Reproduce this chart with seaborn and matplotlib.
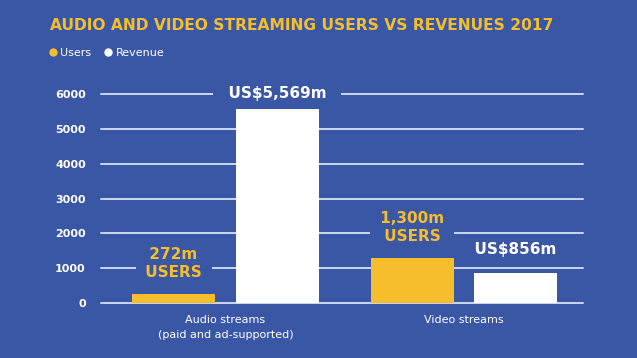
import pandas as pd
import matplotlib
matplotlib.use("Agg")
import matplotlib.pyplot as plt
from matplotlib.lines import Line2D
import seaborn as sns

# =========================
# dados
# =========================
categorias = ["Audio streams\n(paid and ad-supported)", "Video streams"]
usuarios = [272, 1300]
receita = [5569, 856]
rotulos_usuarios = ["272m\nUSERS", "1,300m\nUSERS"]
rotulos_receita = ["US$5,569m", "US$856m"]
series = ["Users", "Revenue"]
yticks = [0, 1000, 2000, 3000, 4000, 5000, 6000]

# estilo
FUNDO = "#3a57a6"
AMARELO = "#f6be2c"
BRANCO = "#ffffff"
GRADE = "#cbd7f2"
desloc_usuarios = [10, 10]   # pontos acima da barra
desloc_receita = [6, 12]

dados = pd.DataFrame({
    "Categoria": categorias * 2,
    "Serie": [series[0]] * 2 + [series[1]] * 2,
    "Valor": usuarios + receita,
})

sns.set_style("white")
plt.rcParams["font.family"] = ["DejaVu Sans"]

fig = plt.figure(figsize=(6.37, 3.58), dpi=100, facecolor=FUNDO)
ax = fig.add_axes([0.1586, 0.1536, 0.7564, 0.5838], facecolor=FUNDO)

sns.barplot(
    data=dados, x="Categoria", y="Valor", hue="Serie",
    palette=[AMARELO, BRANCO], saturation=1, width=0.87, gap=0.2,
    legend=False, ax=ax, zorder=3, linewidth=0,
)

# grade
for y in yticks:
    ax.axhline(y, color=GRADE, lw=1.4, zorder=1, clip_on=False)

ax.set_xlim(-0.522, 1.499)
ax.set_ylim(0, 6000)
ax.set_yticks(yticks)
ax.set_yticklabels([str(t) for t in yticks], color=BRANCO, fontsize=8, fontweight="bold")
ax.set_xticks(range(len(categorias)))
ax.set_xticklabels(categorias, linespacing=1.6)
ax.tick_params(axis="y", length=0, pad=11)
ax.tick_params(axis="x", length=0, pad=8.5, labelsize=8, labelcolor=BRANCO)
ax.set_xlabel("")
ax.set_ylabel("")
for s in ax.spines.values():
    s.set_visible(False)


def com_margem(txt, n):
    return "\n".join(" " * n + l + " " * n for l in txt.split("\n"))


# rótulos das barras
barras_u = ax.containers[0]
barras_r = ax.containers[1]
for barra, txt, d in zip(barras_u, rotulos_usuarios, desloc_usuarios):
    ax.annotate(com_margem(txt, 1), (barra.get_x() + barra.get_width() / 2, barra.get_height()),
                xytext=(0, d), textcoords="offset points", ha="center", va="bottom",
                color=AMARELO, fontsize=11, fontweight="bold", linespacing=1.2,
                bbox=dict(boxstyle="square,pad=0.3", fc=FUNDO, ec="none"), zorder=4,
                annotation_clip=False)
for barra, txt, d in zip(barras_r, rotulos_receita, desloc_receita):
    ax.annotate(com_margem(txt, 2), (barra.get_x() + barra.get_width() / 2, barra.get_height()),
                xytext=(0, d), textcoords="offset points", ha="center", va="bottom",
                color=BRANCO, fontsize=11, fontweight="bold",
                bbox=dict(boxstyle="square,pad=0.3", fc=FUNDO, ec="none"), zorder=4,
                annotation_clip=False)

# título e legenda
fig.text(50 / 637, 1 - 25 / 358, "AUDIO AND VIDEO STREAMING USERS VS REVENUES 2017",
         color=AMARELO, fontsize=11.2, fontweight="bold", va="center", ha="left")

handles = [
    Line2D([], [], marker="o", ls="none", color=AMARELO, markersize=5),
    Line2D([], [], marker="o", ls="none", color=BRANCO, markersize=5),
]
leg = fig.legend(handles, series, loc="upper left", bbox_to_anchor=(37 / 637, 1 - 38 / 358),
                 ncol=2, frameon=False, fontsize=8, labelcolor=BRANCO,
                 handletextpad=0.2, columnspacing=1.0, handlelength=1.0)

fig.savefig("out.png", dpi=100, facecolor=FUNDO)
